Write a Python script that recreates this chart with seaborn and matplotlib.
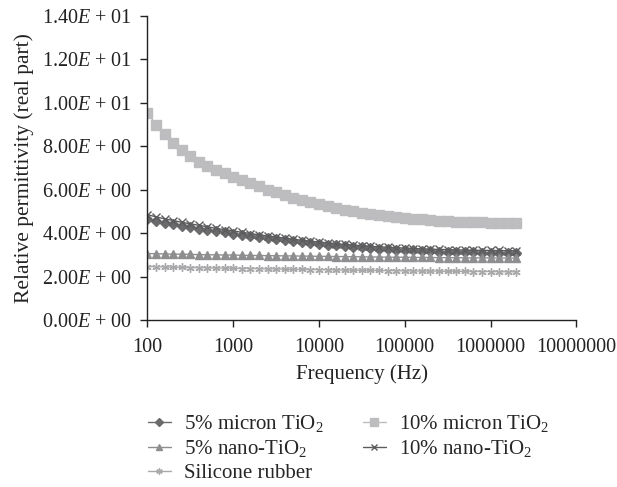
import matplotlib
matplotlib.use("Agg")
import matplotlib.pyplot as plt
import seaborn as sns
from matplotlib.ticker import FixedLocator, FuncFormatter, NullLocator

# Frequency sweep (Hz)
frequency = [
    100, 126, 158, 200, 251, 316, 398, 501, 631, 794,
    1000, 1259, 1585, 1995, 2512, 3162, 3981, 5012, 6310, 7943,
    10000, 12589, 15849, 19953, 25119, 31623, 39811, 50119, 63096, 79433,
    100000, 125893, 158489, 199526, 251189, 316228, 398107, 501187, 630957, 794328,
    1000000, 1258925, 1584893, 1995262,
]

micron_5 = [
    4.65, 4.56, 4.48, 4.41, 4.34, 4.27, 4.21, 4.15, 4.09, 4.03,
    3.98, 3.92, 3.87, 3.82, 3.77, 3.72, 3.68, 3.63, 3.59, 3.55,
    3.51, 3.47, 3.44, 3.40, 3.37, 3.34, 3.31, 3.29, 3.26, 3.24,
    3.22, 3.20, 3.18, 3.17, 3.15, 3.14, 3.13, 3.12, 3.11, 3.10,
    3.10, 3.09, 3.09, 3.08,
]
micron_10 = [
    9.55, 9.00, 8.55, 8.15, 7.85, 7.55, 7.30, 7.10, 6.90, 6.75,
    6.60, 6.45, 6.30, 6.15, 6.00, 5.88, 5.75, 5.63, 5.52, 5.42,
    5.32, 5.23, 5.15, 5.07, 5.00, 4.94, 4.88, 4.83, 4.78, 4.74,
    4.70, 4.66, 4.63, 4.60, 4.57, 4.55, 4.53, 4.51, 4.50, 4.49,
    4.48, 4.47, 4.46, 4.45,
]
nano_5 = [
    3.06, 3.05, 3.04, 3.03, 3.03, 3.02, 3.01, 3.00, 3.00, 2.99,
    2.99, 2.98, 2.97, 2.97, 2.96, 2.96, 2.95, 2.95, 2.94, 2.94,
    2.93, 2.93, 2.92, 2.92, 2.91, 2.91, 2.90, 2.90, 2.89, 2.89,
    2.89, 2.88, 2.88, 2.88, 2.87, 2.87, 2.87, 2.86, 2.86, 2.86,
    2.86, 2.85, 2.85, 2.85,
]
nano_10 = [
    4.85, 4.75, 4.66, 4.58, 4.50, 4.43, 4.36, 4.29, 4.22, 4.16,
    4.10, 4.04, 3.98, 3.92, 3.87, 3.82, 3.77, 3.72, 3.67, 3.63,
    3.59, 3.55, 3.51, 3.48, 3.45, 3.42, 3.39, 3.37, 3.35, 3.33,
    3.31, 3.29, 3.28, 3.26, 3.25, 3.24, 3.23, 3.22, 3.21, 3.21,
    3.20, 3.20, 3.19, 3.19,
]
silicone = [
    2.46, 2.45, 2.44, 2.43, 2.42, 2.41, 2.41, 2.40, 2.39, 2.39,
    2.38, 2.37, 2.37, 2.36, 2.35, 2.35, 2.34, 2.33, 2.33, 2.32,
    2.32, 2.31, 2.30, 2.30, 2.29, 2.29, 2.28, 2.28, 2.27, 2.27,
    2.26, 2.26, 2.25, 2.25, 2.25, 2.24, 2.24, 2.24, 2.23, 2.23,
    2.23, 2.22, 2.22, 2.22,
]

x_ticks = [100, 1000, 10000, 100000, 1000000, 10000000]
y_ticks = [0, 2, 4, 6, 8, 10, 12, 14]

# (label, values, color, marker, markersize)
series = [
    ("5% micron TiO$_2$", micron_5, "#6b6b6d", "D", 5),
    ("10% micron TiO$_2$", micron_10, "#bdbdc0", "s", 7),
    ("5% nano-TiO$_2$", nano_5, "#8e8e90", "^", 6),
    ("10% nano-TiO$_2$", nano_10, "#5c5c5e", "x", 6),
    ("Silicone rubber", silicone, "#a9a9ab", (6, 2, 0), 6),
]

sns.set_style("ticks")
plt.rcParams["font.family"] = ["Liberation Serif", "DejaVu Serif"]
plt.rcParams["mathtext.fontset"] = "custom"
plt.rcParams["mathtext.rm"] = "Liberation Serif"
plt.rcParams["mathtext.it"] = "Liberation Serif:italic"

fig = plt.figure(figsize=(6.17, 4.87), dpi=100)
ax = fig.add_axes([0.239, 0.343, 0.695, 0.624])

for label, values, color, marker, size in series:
    sns.lineplot(
        x=frequency, y=values, ax=ax, color=color, marker=marker,
        markersize=size, markeredgecolor=color, markeredgewidth=1,
        linewidth=1, label=label,
    )

ax.set_xscale("log")
ax.set_xlim(100, 10000000)
ax.set_ylim(0, 14)
ax.xaxis.set_major_locator(FixedLocator(x_ticks))
ax.xaxis.set_minor_locator(NullLocator())
ax.xaxis.set_major_formatter(FuncFormatter(lambda v, p: f"{int(round(v))}"))
ax.yaxis.set_major_locator(FixedLocator(y_ticks))


def sci_label(v, pos):
    if v == 0:
        return "0.00$E$ + 00"
    exp = 0
    m = v
    while m >= 10:
        m /= 10
        exp += 1
    return f"{m:.2f}$E$ + {exp:02d}"


ax.yaxis.set_major_formatter(FuncFormatter(sci_label))
ax.tick_params(axis="both", labelsize=14.5, length=5, width=1, color="#222222",
               labelcolor="#222222", direction="out")
ax.tick_params(axis="y", pad=6)
ax.tick_params(axis="x", pad=8)
for s in ["left", "bottom"]:
    ax.spines[s].set_color("#222222")
    ax.spines[s].set_linewidth(1)
sns.despine(ax=ax)

ax.set_xlabel("Frequency (Hz)", fontsize=15, color="#222222", labelpad=5)
ax.set_ylabel("Relative permittivity (real part)", fontsize=15.5,
              color="#222222", labelpad=6)

handles, labels = ax.get_legend_handles_labels()
ax.get_legend().remove()
order = [0, 2, 4, 1, 3]
fig.legend(
    [handles[i] for i in order], [labels[i] for i in order],
    loc="upper left", bbox_to_anchor=(0.209, 0.19), ncol=2, frameon=False,
    fontsize=15, handlelength=1.1, columnspacing=1.9, labelspacing=0.2,
    handletextpad=0.62, markerscale=0.75,
)

fig.savefig("out.png", dpi=100)
